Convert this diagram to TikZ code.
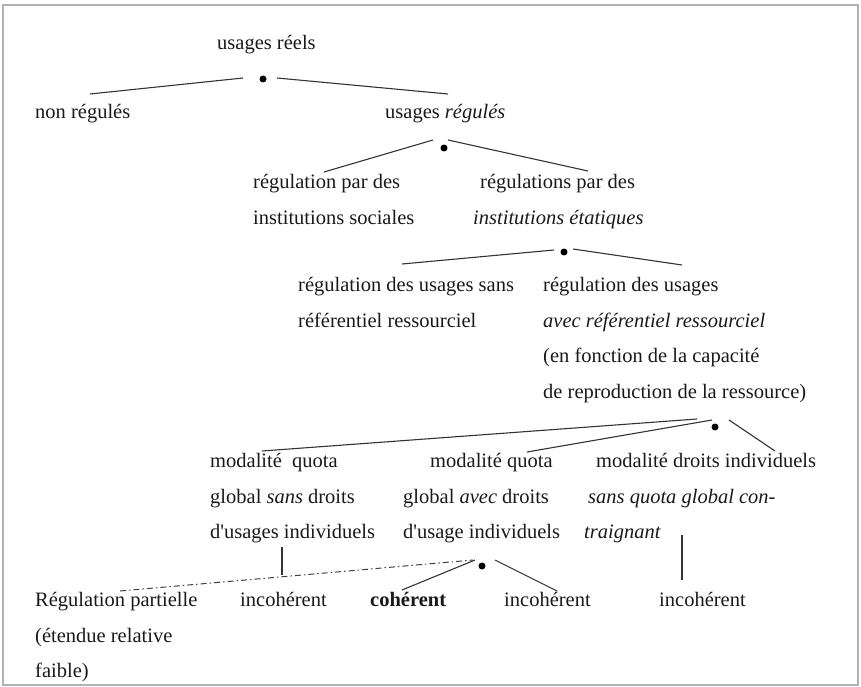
\documentclass[tikz,border=0pt]{standalone}
\usepackage{fontspec}
\setmainfont{Liberation Serif}
\begin{document}
\begin{tikzpicture}[x=1pt,y=-1pt,
  txt/.style={anchor=base west,inner sep=0pt,text=black!90,
    font=\rmfamily\fontsize{20.5}{24}\selectfont},
  branch/.style={draw=black!80,line width=1.1pt},
  partial/.style={draw=black!75,line width=1pt,
    dash pattern=on 6pt off 3pt on 1.5pt off 3pt},
  knot/.style={circle,fill=black,inner sep=0pt,minimum size=7pt}]
\useasboundingbox (0,0) rectangle (861,687);
\draw[gray!60,line width=1.6pt] (3,5) rectangle (858,685);

% level 0
\node[txt] (t0) at (217,50) {usages réels};
\node[knot] (k1) at (263,79) {};
\coordinate (a1) at (90,94);  \coordinate (a2) at (243,78);
\coordinate (a3) at (277,78); \coordinate (a4) at (448,94);
\draw[branch] (a1) -- (a2);
\draw[branch] (a3) -- (a4);

% level 1
\node[txt] (t1a) at (35,119) {non régulés};
\node[txt] (t1b) at (385,119) {usages \textit{régulés}};
\node[knot] (k2) at (444,148) {};
\coordinate (b1) at (324,172); \coordinate (b2) at (433,140);
\coordinate (b3) at (448,140); \coordinate (b4) at (588,171);
\draw[branch] (b1) -- (b2);
\draw[branch] (b3) -- (b4);

% level 2
\node[txt] (t2a1) at (253,189) {régulation par des};
\node[txt] (t2a2) at (253,224) {institutions sociales};
\node[txt] (t2b1) at (480,189) {régulations par des};
\node[txt] (t2b2) at (473,224) {\textit{institutions étatiques}};
\node[knot] (k3) at (564,252) {};
\coordinate (c1) at (402,264); \coordinate (c2) at (554,250);
\coordinate (c3) at (573,249); \coordinate (c4) at (682,265);
\draw[branch] (c1) -- (c2);
\draw[branch] (c3) -- (c4);

% level 3
\node[txt] (t3a1) at (298,291) {régulation des usages sans};
\node[txt] (t3a2) at (298,327) {référentiel ressourciel};
\node[txt] (t3b1) at (543,291) {régulation des usages};
\node[txt] (t3b2) at (543,327) {\textit{avec référentiel ressourciel}};
\node[txt] (t3b3) at (543,362) {(en fonction de la capacité};
\node[txt] (t3b4) at (543,398) {de reproduction de la ressource)};
\node[knot] (k4) at (715,427) {};
\coordinate (e1) at (262,451); \coordinate (e2) at (697,419);
\coordinate (e3) at (527,452); \coordinate (e4) at (712,420);
\coordinate (e5) at (729,420); \coordinate (e6) at (775,451);
\draw[branch] (e1) -- (e2);
\draw[branch] (e3) -- (e4);
\draw[branch] (e5) -- (e6);

% level 4
\node[txt] (t4a1) at (210,467) {modalité~ quota};
\node[txt] (t4a2) at (210,503) {global \textit{sans} droits};
\node[txt] (t4a3) at (210,538) {d\textquotesingle usages individuels};
\node[txt] (t4b1) at (430,467) {modalité quota};
\node[txt] (t4b2) at (403,503) {global \textit{avec} droits};
\node[txt] (t4b3) at (403,538) {d\textquotesingle usage individuels};
\node[txt] (t4c1) at (596,467) {modalité droits individuels};
\node[txt] (t4c2) at (588,503) {\textit{sans quota global con-}};
\node[txt] (t4c3) at (584,538) {\textit{traignant}};

% level 5
\node[knot] (k5) at (482,566) {};
\coordinate (f1) at (282,547); \coordinate (f2) at (282,575);
\coordinate (g1) at (120,591); \coordinate (g2) at (473,560);
\coordinate (h1) at (402,590); \coordinate (h2) at (475,560);
\coordinate (h3) at (495,560); \coordinate (h4) at (557,591);
\coordinate (v1) at (682,535); \coordinate (v2) at (682,580);
\draw[branch] (f1) -- (f2);
\draw[partial] (g1) -- (g2);
\draw[branch] (h1) -- (h2);
\draw[branch] (h3) -- (h4);
\draw[branch] (v1) -- (v2);

\node[txt] (t5a1) at (35,606) {Régulation partielle};
\node[txt] (t5a2) at (35,642) {(étendue relative};
\node[txt] (t5a3) at (35,677) {faible)};
\node[txt] (t5b) at (240,606) {incohérent};
\node[txt] (t5c) at (370,606) {\textbf{cohérent}};
\node[txt] (t5d) at (504,606) {incohérent};
\node[txt] (t5e) at (659,606) {incohérent};
\end{tikzpicture}
\end{document}
